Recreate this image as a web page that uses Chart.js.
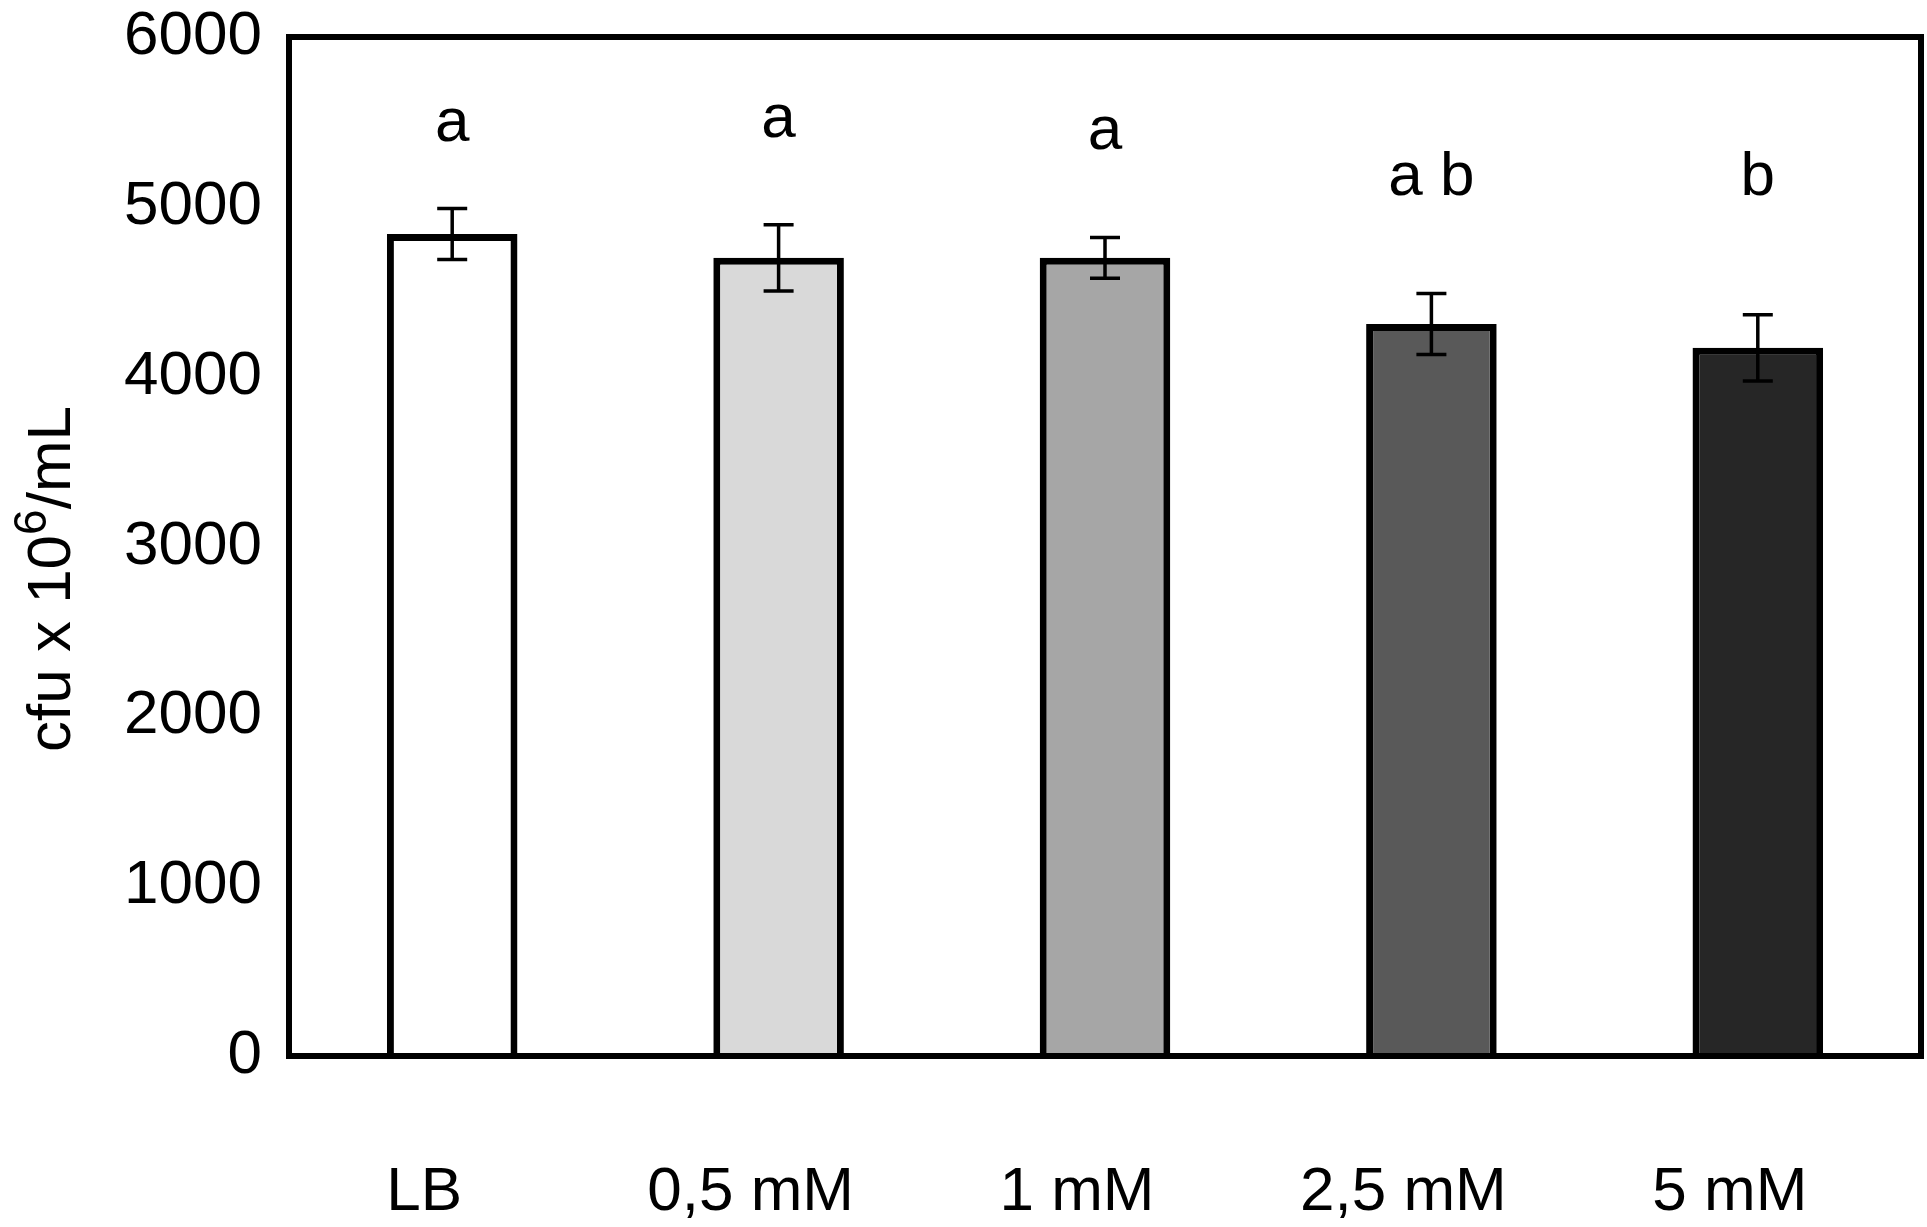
<!DOCTYPE html>
<html>
<head>
<meta charset="utf-8">
<script src="https://cdn.jsdelivr.net/npm/chart.js@4"></script>
<style>
  html, body { margin: 0; padding: 0; background: #fff; }
  #wrap { width: 1927px; height: 1227px; }
</style>
</head>
<body>
<div id="wrap"><canvas id="chart" width="1927" height="1227"></canvas></div>
<script>
const categories = ['LB', '0,5 mM', '1 mM', '2,5 mM', '5 mM'];
const means = [4840, 4700, 4700, 4310, 4170];
const errors = [150, 195, 120, 180, 195];
const letters = ['a', 'a', 'a', 'a b', 'b'];
const letterLevels = [5490, 5510, 5440, 5170, 5170];
const barColors = ['#ffffff', '#d9d9d9', '#a6a6a6', '#595959', '#262626'];
const yTicks = [0, 1000, 2000, 3000, 4000, 5000, 6000];

const FONT = 'Liberation Sans, Arial, Helvetica, sans-serif';

const extras = {
  id: 'extras',
  afterDatasetsDraw(chart) {
    const ctx = chart.ctx;
    const x = chart.scales.x, y = chart.scales.y;
    ctx.save();
    // error bars
    ctx.strokeStyle = '#000';
    ctx.lineWidth = 3.5;
    means.forEach((m, i) => {
      const cx = x.getPixelForValue(i);
      const top = y.getPixelForValue(m + errors[i]);
      const bot = y.getPixelForValue(m - errors[i]);
      ctx.beginPath();
      ctx.moveTo(cx, top); ctx.lineTo(cx, bot);
      ctx.moveTo(cx - 15, top); ctx.lineTo(cx + 15, top);
      ctx.moveTo(cx - 15, bot); ctx.lineTo(cx + 15, bot);
      ctx.stroke();
    });
    // significance letters
    ctx.fillStyle = '#000';
    ctx.font = '62px ' + FONT;
    ctx.textAlign = 'center';
    ctx.textBaseline = 'middle';
    letters.forEach((t, i) => {
      ctx.fillText(t, x.getPixelForValue(i), y.getPixelForValue(letterLevels[i]));
    });
    // frame
    const a = chart.chartArea;
    ctx.lineWidth = 6;
    ctx.lineJoin = 'miter';
    ctx.strokeRect(a.left, a.top, a.right - a.left, a.bottom - a.top);
    // y axis title with superscript
    const big = 62, small = 46;
    ctx.font = big + 'px ' + FONT;
    const w1 = ctx.measureText('cfu x 10').width;
    const w3 = ctx.measureText('/mL').width;
    ctx.font = small + 'px ' + FONT;
    const w2 = ctx.measureText('6').width;
    const total = w1 + w2 + w3;
    ctx.translate(70, 579);
    ctx.rotate(-Math.PI / 2);
    ctx.textAlign = 'left';
    ctx.textBaseline = 'alphabetic';
    let px = -total / 2;
    ctx.font = big + 'px ' + FONT;
    ctx.fillText('cfu x 10', px, 0);
    px += w1;
    ctx.font = small + 'px ' + FONT;
    ctx.fillText('6', px, -24);
    px += w2;
    ctx.font = big + 'px ' + FONT;
    ctx.fillText('/mL', px, 0);
    ctx.restore();
  }
};

new Chart(document.getElementById('chart'), {
  type: 'bar',
  data: {
    labels: categories,
    datasets: [{
      data: means,
      backgroundColor: barColors,
      borderColor: '#000',
      borderWidth: 7,
      barPercentage: 0.4,
      categoryPercentage: 1.0
    }]
  },
  options: {
    responsive: false,
    animation: false,
    devicePixelRatio: 1,
    layout: { padding: { top: 37, right: 6, left: 0, bottom: 0 } },
    plugins: { legend: { display: false }, tooltip: { enabled: false } },
    scales: {
      x: {
        grid: { display: false, drawTicks: false },
        border: { display: false },
        ticks: {
          color: '#000',
          font: { family: FONT, size: 62 },
          padding: 100,
          labelOffset: -28,
          maxRotation: 0
        },
        afterFit(s) { s.height = 171; s.paddingLeft = 0; s.paddingRight = 0; }
      },
      y: {
        min: 0,
        max: 6000,
        grid: { display: false, drawTicks: false },
        border: { display: false },
        afterBuildTicks(s) { s.ticks = yTicks.map(v => ({ value: v })); },
        ticks: {
          color: '#000',
          font: { family: FONT, size: 62 },
          padding: 27,
          callback: v => String(v)
        },
        afterFit(s) { s.width = 289; s.paddingTop = 0; s.paddingBottom = 0; }
      }
    }
  },
  plugins: [extras]
});
</script>
</body>
</html>
